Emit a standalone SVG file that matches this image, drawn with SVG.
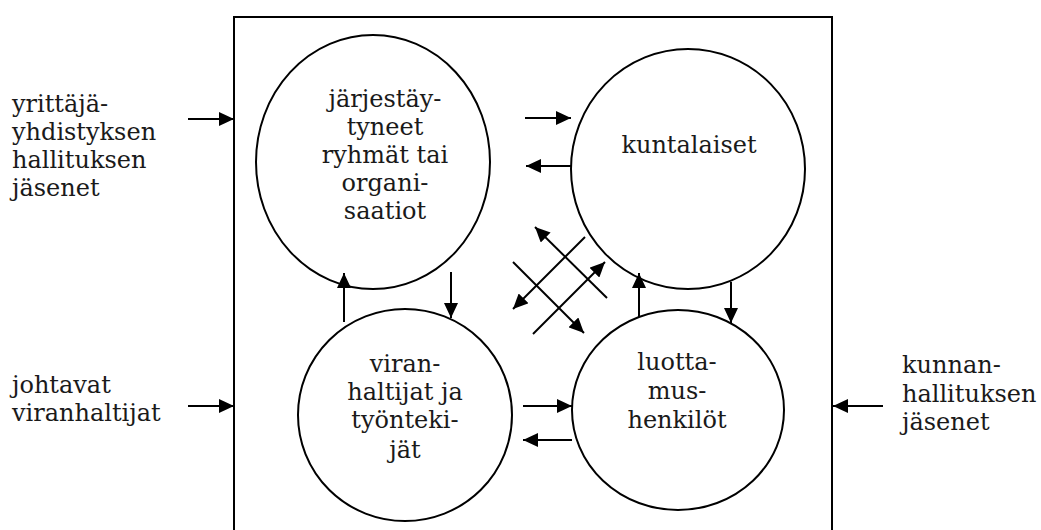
<svg xmlns="http://www.w3.org/2000/svg" width="1041" height="530" viewBox="0 0 1041 530">
<style>
  text{font-family:'DejaVu Serif','Liberation Serif',serif;font-size:24px;fill:#1a1a1a}
  .c{text-anchor:middle}
  .n{fill:#fff;stroke:#000;stroke-width:2}
  .a{stroke:#000;stroke-width:2;fill:none;marker-end:url(#ah)}
</style>
<defs>
  <marker id="ah" markerUnits="userSpaceOnUse" markerWidth="16" markerHeight="14" refX="15" refY="7" orient="auto">
    <path d="M0,0 L15,7 L0,14 Z" fill="#000"/>
  </marker>
</defs>
<rect x="0" y="0" width="1041" height="530" fill="#fff"/>
<g id="frame">
  <path d="M234,540 L234,17 L832,17 L832,540" fill="none" stroke="#000" stroke-width="2"/>
</g>
<g id="node-jarjestaytyneet">
  <ellipse class="n" cx="373" cy="162" rx="117" ry="127"/>
  <text class="c"><tspan x="385" y="107">järjestäy-</tspan><tspan x="385" y="135">tyneet</tspan><tspan x="385" y="163">ryhmät tai</tspan><tspan x="385" y="191">organi-</tspan><tspan x="385" y="219">saatiot</tspan></text>
</g>
<g id="node-kuntalaiset">
  <ellipse class="n" cx="688" cy="169" rx="117" ry="120"/>
  <text class="c" x="689" y="153">kuntalaiset</text>
</g>
<g id="node-viranhaltijat">
  <ellipse class="n" cx="405" cy="415" rx="107" ry="106"/>
  <text class="c"><tspan x="405" y="372">viran-</tspan><tspan x="405" y="400">haltijat ja</tspan><tspan x="405" y="428">työnteki-</tspan><tspan x="405" y="458">jät</tspan></text>
</g>
<g id="node-luottamushenkilot">
  <ellipse class="n" cx="678" cy="410" rx="106" ry="100"/>
  <text class="c"><tspan x="677" y="370">luotta-</tspan><tspan x="677" y="399">mus-</tspan><tspan x="677" y="428">henkilöt</tspan></text>
</g>
<g id="label-yrittaja">
  <text><tspan x="12" y="112">yrittäjä-</tspan><tspan x="12" y="140">yhdistyksen</tspan><tspan x="12" y="168">hallituksen</tspan><tspan x="12" y="196">jäsenet</tspan></text>
</g>
<g id="label-johtavat">
  <text><tspan x="12" y="393">johtavat</tspan><tspan x="12" y="421">viranhaltijat</tspan></text>
</g>
<g id="label-kunnanhallitus">
  <text><tspan x="902" y="373">kunnan-</tspan><tspan x="902" y="402">hallituksen</tspan><tspan x="902" y="430">jäsenet</tspan></text>
</g>
<g id="connectors">
  <line class="a" x1="188" y1="119" x2="234" y2="119"/>
  <line class="a" x1="188" y1="406" x2="234" y2="406"/>
  <line class="a" x1="883" y1="406" x2="833" y2="406"/>
  <line class="a" x1="525" y1="118" x2="571" y2="118"/>
  <line class="a" x1="571" y1="166" x2="526" y2="166"/>
  <line class="a" x1="523" y1="406" x2="572" y2="406"/>
  <line class="a" x1="572" y1="440" x2="523" y2="440"/>
  <line class="a" x1="344" y1="322" x2="344" y2="273"/>
  <line class="a" x1="451" y1="272" x2="451" y2="318"/>
  <line class="a" x1="639" y1="317" x2="639" y2="273"/>
  <line class="a" x1="731" y1="282" x2="731" y2="323"/>
  <line class="a" x1="607" y1="298" x2="535" y2="227"/>
  <line class="a" x1="585" y1="237" x2="513" y2="309"/>
  <line class="a" x1="513" y1="262" x2="584" y2="333"/>
  <line class="a" x1="533" y1="334" x2="605" y2="262"/>
</g>
</svg>
